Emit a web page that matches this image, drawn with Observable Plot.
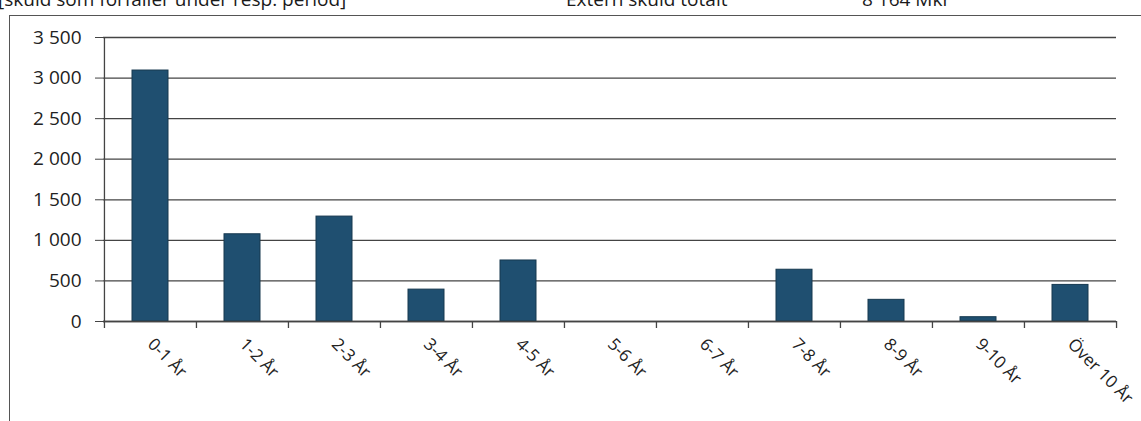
<!DOCTYPE html>
<html>
<head>
<meta charset="utf-8">
<script src="https://cdn.jsdelivr.net/npm/d3@7"></script>
<script src="https://cdn.jsdelivr.net/npm/@observablehq/plot@0.6"></script>
<style>
  html, body { margin: 0; padding: 0; background: #fff; overflow: hidden; }
  body { width: 1141px; height: 421px; position: relative; font-family: "Open Sans", sans-serif; color: #222; }
  .hdr { position: absolute; top: -14px; font-size: 19px; white-space: pre; color: #1a1a1a; }
  .frame { position: absolute; left: 9px; top: 15px; right: -2px; bottom: -2px; border-top: 1.5px solid #555; border-left: 1.5px solid #555; }
  #chart { position: absolute; left: 0; top: 0; }
</style>
</head>
<body>
<div class="hdr" style="left:-2px">[skuld som förfaller under resp. period]</div>
<div class="hdr" style="left:566px">Extern skuld totalt</div>
<div class="hdr" style="left:862px">8 164 Mkr</div>
<div class="frame"></div>
<div id="chart"></div>
<script>
const categories = ["0-1 År","1-2 År","2-3 År","3-4 År","4-5 År","5-6 År","6-7 År","7-8 År","8-9 År","9-10 År","Över 10 År"];
const values = [3093, 1075, 1293, 393, 752, 0, 0, 638, 267, 53, 451];
const yTicks = [0, 500, 1000, 1500, 2000, 2500, 3000, 3500];

const data = categories.map((c, i) => ({cat: c, value: values[i]}));
const W = 1141, H = 421, ML = 103, MR = 25, MT = 37, MB = 100;
const step = (W - ML - MR) / categories.length;
const fmt = d => d3.format(",")(d).replace(/,/g, "\u00a0");

const chart = Plot.plot({
  width: W, height: H,
  marginLeft: ML, marginRight: MR, marginTop: MT, marginBottom: MB,
  style: {fontFamily: "Open Sans, sans-serif", color: "#222", background: "transparent", overflow: "visible"},
  x: {domain: categories, paddingInner: 0.61, paddingOuter: 0.305, label: null},
  y: {domain: [0, 3500], label: null},
  marks: [
    Plot.gridY(yTicks, {stroke: "#444", strokeOpacity: 1, strokeWidth: 1.3}),
    Plot.barY(data, {x: "cat", y: "value", fill: "#1f4f70", stroke: "#16384f", strokeWidth: 1}),
    Plot.ruleY([0], {stroke: "#444", strokeWidth: 1.3}),
    Plot.ruleX([0], {x: () => categories[0], dx: -step / 2, y1: 0, y2: 3500, stroke: "#444", strokeWidth: 1.3}),
    Plot.axisY(yTicks, {tickFormat: fmt, tickSize: 8, tickPadding: 14, fontSize: 19, stroke: "#444", fill: "#222"}),
    Plot.ruleX(categories, {x: d => d, dx: -step / 2, y1: 0, y2: 0, insetBottom: -7, stroke: "#444", strokeWidth: 1.3}),
    Plot.ruleX([categories[categories.length - 1]], {x: d => d, dx: step / 2, y1: 0, y2: 0, insetBottom: -7, stroke: "#444", strokeWidth: 1.3}),
    Plot.axisX({tickSize: 0, tickRotate: 45, tickPadding: 20, fontSize: 17, fill: "#222"})
  ]
});
document.getElementById("chart").appendChild(chart);
</script>
</body>
</html>
